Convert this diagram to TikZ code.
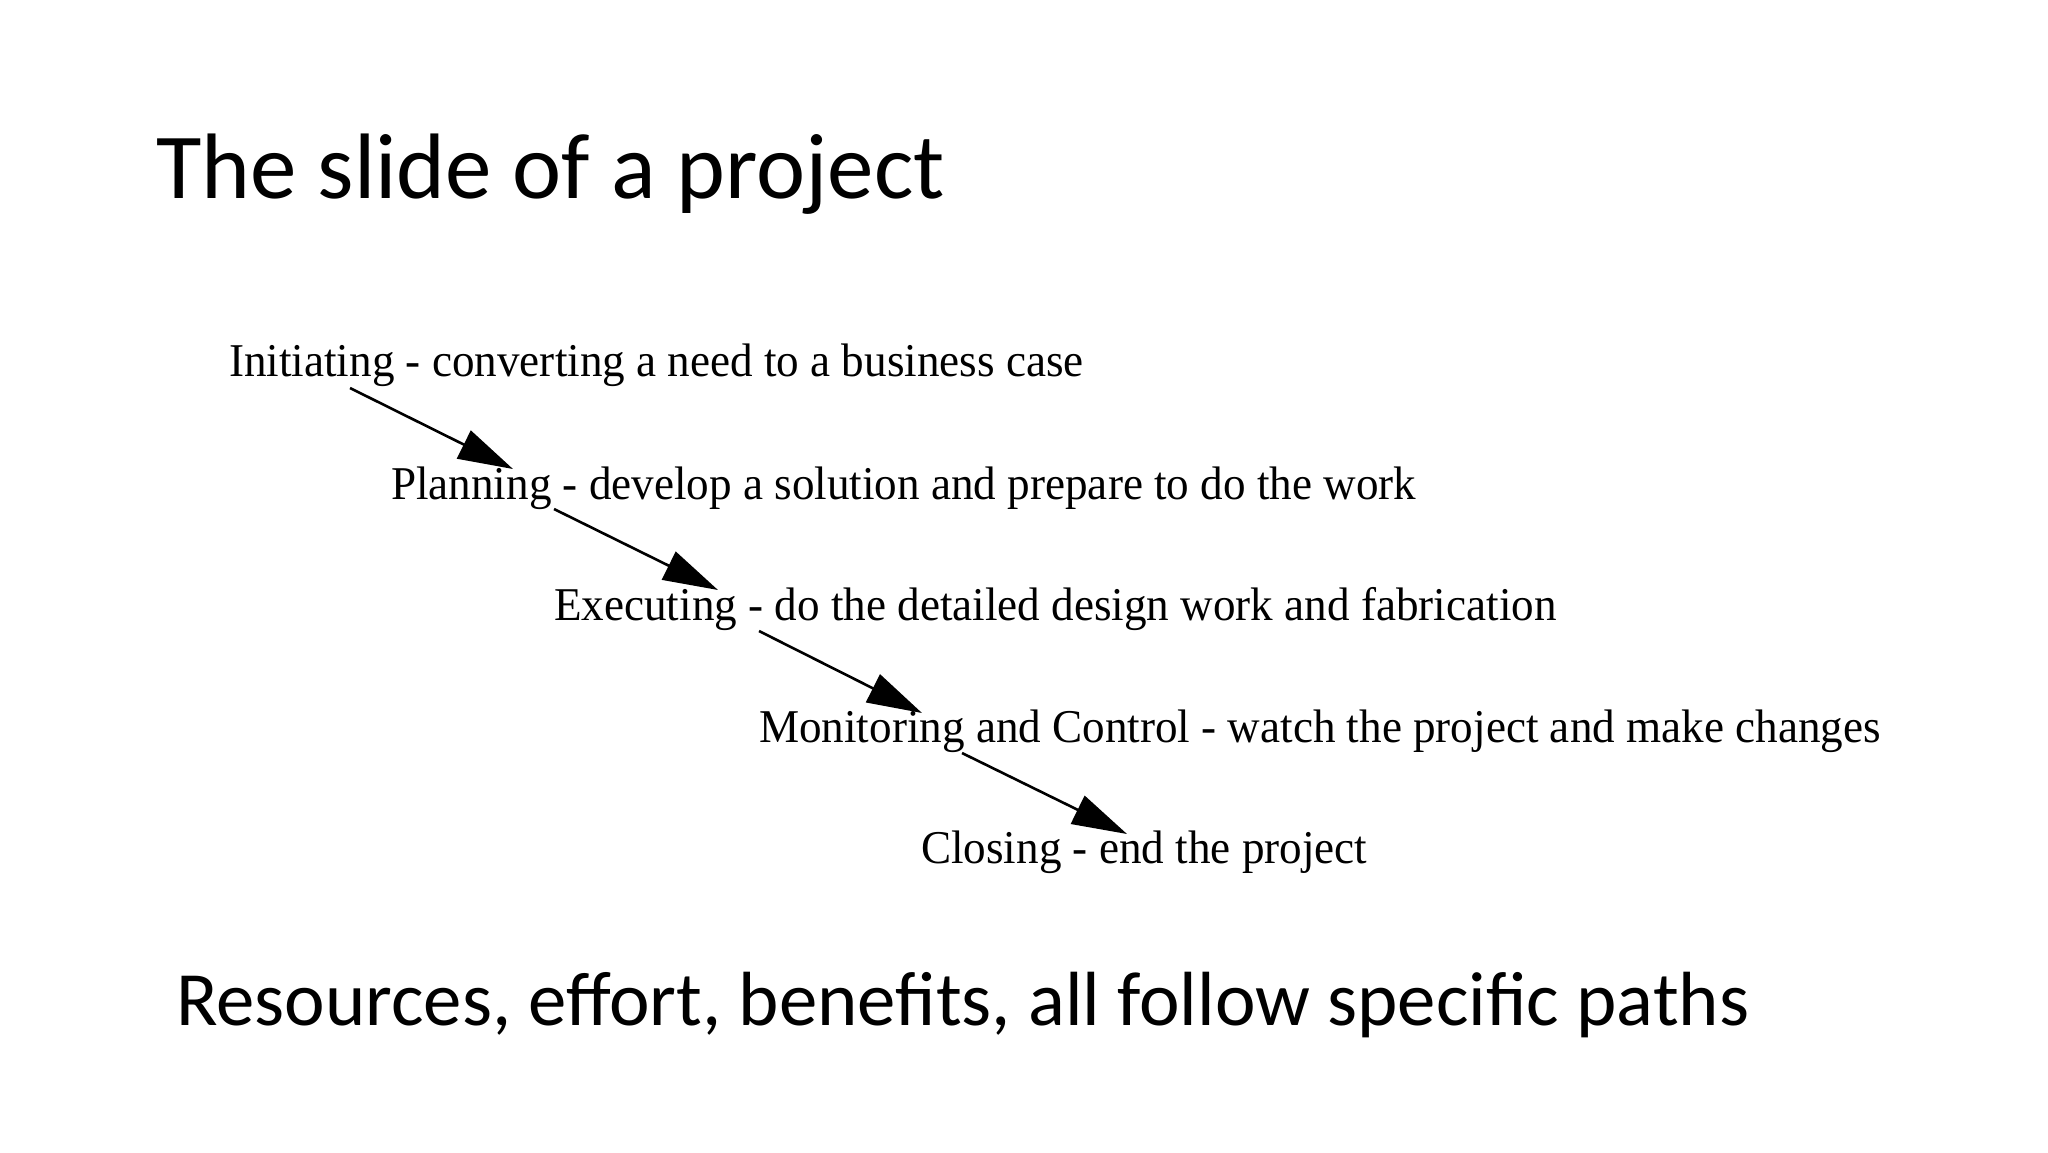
\documentclass[tikz,border=0pt]{standalone}
\usepackage{fontspec}
\setmainfont{Liberation Serif}
\newfontfamily\slidefont{Carlito}
\usetikzlibrary{arrows.meta}
\tikzset{
  phase/.style={anchor=base west, inner sep=0pt, font=\fontsize{47}{50}\selectfont},
  flow/.style={line width=2.6pt, -{Triangle[length=55pt,width=31pt]}},
  titletext/.style={anchor=base west, inner sep=0pt, font=\slidefont\fontsize{93}{100}\selectfont},
  bodytext/.style={anchor=base west, inner sep=0pt, font=\slidefont\fontsize{76.8}{80}\selectfont}
}
\newcommand{\sq}[1]{\scalebox{0.96}[1]{#1}}
\begin{document}
\begin{tikzpicture}[x=1pt,y=-1pt]
\useasboundingbox (0,0) rectangle (2048,1152);
\node[titletext] (title) at (156,198) {The slide of a project};
\node[phase] (init) at (229,376) {\sq{Initiating - converting a need to a business case}};
\node[phase] (plan) at (391,499) {\sq{Planning - develop a solution and prepare to do the work}};
\node[phase] (exec) at (554,620) {\sq{Executing - do the detailed design work and fabrication}};
\node[phase] (mon) at (759,742) {\sq{Monitoring and Control - watch the project and make changes}};
\node[phase] (close) at (921,863) {\sq{Closing - end the project}};
\node[bodytext] (foot) at (176,1025) {Resources, effort, benefits, all follow specific paths};
\coordinate (a1s) at (350,388);
\coordinate (a1e) at (513,469);
\coordinate (a2s) at (554,509);
\coordinate (a2e) at (718,590);
\coordinate (a3s) at (759,631);
\coordinate (a3e) at (922,713);
\coordinate (a4s) at (962,753);
\coordinate (a4e) at (1127,834);
\draw[flow] (a1s) -- (a1e);
\draw[flow] (a2s) -- (a2e);
\draw[flow] (a3s) -- (a3e);
\draw[flow] (a4s) -- (a4e);
\end{tikzpicture}
\end{document}
